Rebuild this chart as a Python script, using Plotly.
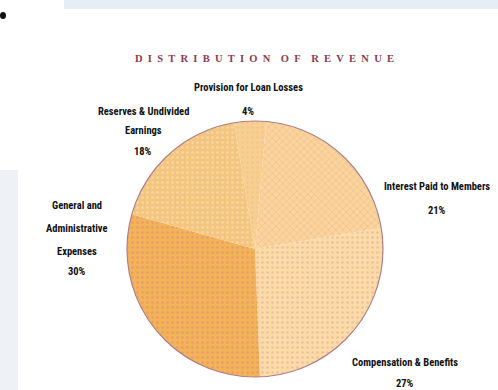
import plotly.graph_objects as go

# Data
labels = ["Interest Paid to Members", "Compensation & Benefits",
          "General and Administrative Expenses", "Reserves & Undivided Earnings",
          "Provision for Loan Losses"]
values = [21, 27, 30, 18, 4]
label_lines = [["Interest Paid to Members"], ["Compensation & Benefits"],
               ["General and", "Administrative", "Expenses"],
               ["Reserves & Undivided", "Earnings"],
               ["Provision for Loan Losses"]]

# Styling
colors = ["#F9D59B", "#FBDCA6", "#F2B456", "#F4C57E", "#F7CF90"]
patterns = ["x", ".", ".", ".", "."]
pat_colors = ["#EBA98C", "#E9B3A0", "#E8907A", "#FADFB5", "#F3BE8E"]
label_pos = [(437/498, 186), (405/498, 362), (77/498, 205), (143/498, 112), (248/498, 88)]
line_gap = [24, 21, 23, 19, 24]
pct_gap = [24, 21, 20, 21, 24]

W, H = 498, 390
dom_x = [127/W, 383/W]
dom_y = [(H-377)/H, (H-121)/H]

fig = go.Figure()
fig.add_trace(go.Pie(
    labels=labels, values=values, sort=False, direction="clockwise", rotation=5,
    marker=dict(colors=colors, line=dict(width=0),
                pattern=dict(shape=patterns, fgcolor=pat_colors, bgcolor=colors,
                             fgopacity=0.75, size=5, solidity=0.2)),
    textinfo="none", hoverinfo="label+percent", showlegend=False,
    domain=dict(x=dom_x, y=dom_y)))
fig.add_trace(go.Pie(
    values=[1], labels=["outline"], sort=False,
    marker=dict(colors=["rgba(0,0,0,0)"], line=dict(color="#B08088", width=1.2)),
    textinfo="none", hoverinfo="skip", showlegend=False,
    domain=dict(x=dom_x, y=dom_y)))

annotations = []
lab_font = dict(family="Liberation Sans Narrow, Arial Narrow, Roboto Condensed, Liberation Sans",
                size=10.5, color="#111111")
for i, lines in enumerate(label_lines):
    x, y0 = label_pos[i]
    y = y0
    for ln in lines:
        annotations.append(dict(x=x, y=1 - y/H, xref="paper", yref="paper",
                                text="<b>" + ln + "</b>", showarrow=False,
                                xanchor="center", yanchor="middle", font=lab_font))
        y += line_gap[i]
    y += pct_gap[i] - line_gap[i]
    annotations.append(dict(x=x, y=1 - y/H, xref="paper", yref="paper",
                            text="<b>%d%%</b>" % values[i], showarrow=False,
                            xanchor="center", yanchor="middle", font=lab_font))

title = "DISTRIBUTION OF REVENUE"
nb = "\u00a0"
spaced = (nb * 4).join((nb * 2).join(w) for w in title.split(" "))
annotations.append(dict(x=264/W, y=1 - 58/H, xref="paper", yref="paper",
                        text="<b>" + spaced + "</b>", showarrow=False,
                        xanchor="center", yanchor="middle",
                        font=dict(family="Liberation Serif, DejaVu Serif", size=10.5, color="#8E3A50")))

shapes = [
    dict(type="rect", xref="paper", yref="paper", x0=64/W, x1=1, y0=1 - 9/H, y1=1,
         fillcolor="#E6EDF5", line=dict(width=0), layer="below"),
    dict(type="rect", xref="paper", yref="paper", x0=0, x1=18/W, y0=0, y1=1 - 170/H,
         fillcolor="#EEF2F7", line=dict(width=0), layer="below"),
    dict(type="circle", xref="paper", yref="paper", x0=0, x1=6/W, y0=1 - 19/H, y1=1 - 12/H,
         fillcolor="#111111", line=dict(width=0)),
]

fig.update_layout(width=W, height=H, margin=dict(l=0, r=0, t=0, b=0),
                  paper_bgcolor="white", plot_bgcolor="white",
                  annotations=annotations, shapes=shapes)
fig.write_html("out.html")
